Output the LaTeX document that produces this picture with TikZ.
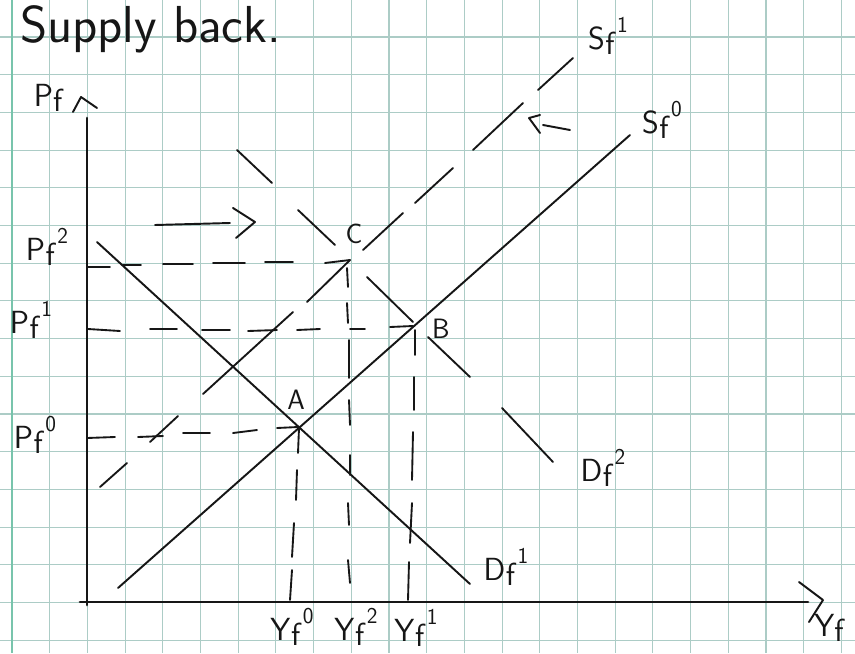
\documentclass[tikz,border=0pt]{standalone}
\usepackage{fontspec}
\definecolor{gridc}{RGB}{172,204,198}
\definecolor{marginc}{RGB}{120,196,172}
\definecolor{ink}{RGB}{22,22,22}
\tikzset{
  curve/.style={ink, line width=1.45pt, line cap=round, line join=round},
  dsh/.style={ink, line width=1.4pt, line cap=round},
  axisline/.style={ink, line width=2pt, line cap=round},
  hand/.style={font=\sffamily\fontsize{24}{26}\selectfont, inner sep=0pt, text=ink},
  ptlab/.style={font=\sffamily\fontsize{21}{23}\selectfont, inner sep=0pt, text=ink},
  gridline/.style={gridc, line width=0.8pt},
}
\newcommand{\hlab}[3]{#1\kern0.02em\raisebox{-0.35ex}{#2}\kern0.08em\raisebox{1.2ex}{\fontsize{17}{17}\selectfont #3}}
\begin{document}
\begin{tikzpicture}[x=0.75pt,y=-0.75pt]
\useasboundingbox (0,0) rectangle (855,653);
\fill[white] (0,0) rectangle (855,653);
% graph paper
\foreach \k in {1,...,22} \draw[gridline] ({12+37.7*\k},0) -- ({12+37.7*\k},653);
\foreach \k in {0,...,16} \draw[gridline] (0,{37+37.7*\k}) -- (855,{37+37.7*\k});
\draw[marginc, line width=1pt] (12,0) -- (12,653);

% title
\node[anchor=base west, inner sep=0pt, text=ink, font=\sffamily\fontsize{39}{41}\selectfont] (title) at (20,42) {Supply back.};

% key points
\coordinate (O) at (87,602);
\coordinate (ytop) at (87,118);
\coordinate (xend) at (808,602);
\coordinate (A) at (298,427);
\coordinate (B) at (413,327);
\coordinate (C) at (351,261);
\coordinate (D1a) at (97,242);
\coordinate (D1b) at (470,584);
\coordinate (S0a) at (118,588);
\coordinate (S0b) at (630,135);

% axes
\draw[axisline] (ytop) -- (87,605);
\draw[axisline] (80,602) -- (xend);
\draw[curve] (73,112) -- (81,97) -- (97,108);
\draw[curve] (799,582) -- (823,600) -- (809,622);

% solid curves
\draw[curve] (D1a) -- (D1b);
\draw[curve] (S0a) -- (S0b);

% S_f^1 dashed
\foreach \a/\b/\c/\d in {100/487/127/463, 150/442/178/416, 203/394/293/312, 307/302/350/260,
  363/250/403/213, 415/203/453/168, 473/150/523/103, 538/90/573/58}
  \draw[dsh] (\a,\b) -- (\c,\d);
% D_f^2 dashed
\foreach \a/\b/\c/\d in {237/150/272/183, 298/210/335/245, 367/277/413/322, 428/337/470/377, 502/408/553/462}
  \draw[dsh] (\a,\b) -- (\c,\d);
% P_f^2 level
\foreach \a/\b/\c/\d in {88/267/110/267, 123/265/141/265, 163/264/193/264, 213/263/245/263, 265/262/293/262, 325/263/350/260}
  \draw[dsh] (\a,\b) -- (\c,\d);
% P_f^1 level
\foreach \a/\b/\c/\d in {88/329/120/331, 150/329/177/329, 202/330/230/330, 248/331/277/330, 297/330/320/329, 350/329/365/329, 390/327/413/326}
  \draw[dsh] (\a,\b) -- (\c,\d);
% P_f^0 level
\foreach \a/\b/\c/\d in {87/438/115/437, 138/437/163/436, 183/433/210/433, 233/433/257/430, 277/428/298/427}
  \draw[dsh] (\a,\b) -- (\c,\d);
% Y_f^0
\foreach \a/\b/\c/\d in {299/428/298/453, 297/470/296/500, 294/523/292/557, 292/570/290/600}
  \draw[dsh] (\a,\b) -- (\c,\d);
% Y_f^2
\foreach \a/\b/\c/\d in {347/268/348/287, 347/303/348/323, 349/340/349/378, 349/400/350/425, 350/455/350/475, 348/503/349/525, 348/560/350/583}
  \draw[dsh] (\a,\b) -- (\c,\d);
% Y_f^1
\foreach \a/\b/\c/\d in {415/330/415/355, 414/377/414/410, 413/432/412/480, 412/503/410/543, 409/562/408/600}
  \draw[dsh] (\a,\b) -- (\c,\d);

% shift arrows
\draw[curve] (155,225) -- (230,223);
\draw[curve] (233,208) -- (255,222) -- (236,238);
\draw[curve] (540,115) -- (529,118) -- (540,133);
\draw[curve] (543,125) -- (570,130);

% labels
\node[hand] (lPf) at (48,98) {P\raisebox{-0.35ex}{f}};
\node[hand] (lP2) at (47,247) {\hlab{P}{f}{2}};
\node[hand] (lP1) at (31,320) {\hlab{P}{f}{1}};
\node[hand] (lP0) at (35,435) {\hlab{P}{f}{0}};
\node[hand] (lY0) at (292,627) {\hlab{Y}{f}{0}};
\node[hand] (lY2) at (356,627) {\hlab{Y}{f}{2}};
\node[hand] (lY1) at (416,628) {\hlab{Y}{f}{1}};
\node[hand, anchor=west] (lYf) at (814,628) {Y\raisebox{-0.35ex}{f}};
\node[hand] (lS1) at (608,36) {\hlab{S}{f}{1}};
\node[hand] (lS0) at (662,120) {\hlab{S}{f}{0}};
\node[hand] (lD2) at (603,468) {\hlab{D}{f}{2}};
\node[hand] (lD1) at (506,567) {\hlab{D}{f}{1}};
\node[ptlab] (lA) at (296,400) {A};
\node[ptlab] (lB) at (441,329) {B};
\node[ptlab] (lC) at (354,234) {C};
\end{tikzpicture}
\end{document}
